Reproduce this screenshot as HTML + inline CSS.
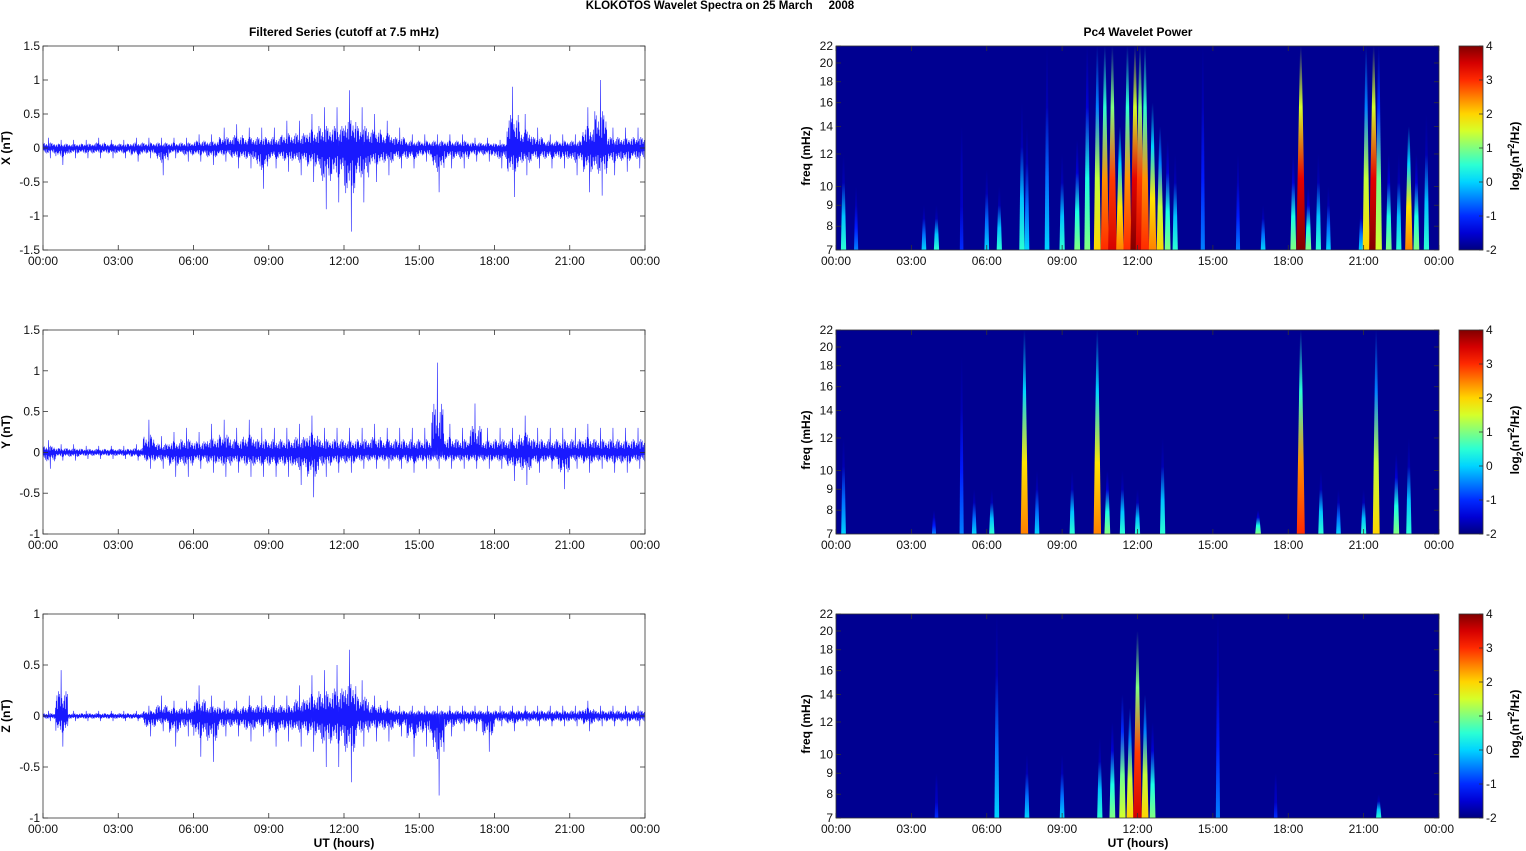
<!DOCTYPE html>
<html><head><meta charset="utf-8">
<style>
html,body{margin:0;padding:0;background:#fff;}
svg{display:block;font-family:"Liberation Sans",Arial,sans-serif;}
</style></head>
<body>
<svg id="fig" width="1526" height="851" viewBox="0 0 1526 851" xmlns="http://www.w3.org/2000/svg">
<text x="720" y="9" font-size="11.5" font-weight="bold" text-anchor="middle">KLOKOTOS Wavelet Spectra on 25 March &#160;&#160;&#160;&#160;2008</text>
<text x="344" y="36" font-size="12" font-weight="bold" text-anchor="middle">Filtered Series (cutoff at 7.5 mHz)</text>
<text x="1138" y="36" font-size="12" font-weight="bold" text-anchor="middle">Pc4 Wavelet Power</text>
<defs id="defs"></defs>
</svg>
<script>
// ---------- data ----------
const timeTicks = ["00:00","03:00","06:00","09:00","12:00","15:00","18:00","21:00","00:00"];
const freqTicks = [7,8,9,10,12,14,16,18,20,22];
const cbTicks = [-2,-1,0,1,2,3,4];
// 30-min bins, envelope max/min (nT)
const xMax = [0.15,0.12,0.12,0.12,0.15,0.12,0.12,0.15,0.15,0.15,0.15,0.15,0.2,0.2,0.3,0.35,0.3,0.3,0.3,0.4,0.4,0.5,0.6,0.6,0.85,0.6,0.5,0.4,0.3,0.2,0.2,0.2,0.2,0.2,0.15,0.15,0.12,0.9,0.5,0.3,0.2,0.2,0.2,0.6,1.0,0.3,0.3,0.3];
const xMin = [-0.15,-0.25,-0.15,-0.15,-0.15,-0.15,-0.15,-0.2,-0.15,-0.4,-0.15,-0.2,-0.2,-0.25,-0.2,-0.3,-0.3,-0.6,-0.3,-0.35,-0.4,-0.5,-0.9,-0.8,-1.23,-0.8,-0.5,-0.4,-0.3,-0.3,-0.2,-0.65,-0.3,-0.3,-0.2,-0.2,-0.3,-0.72,-0.4,-0.3,-0.3,-0.3,-0.4,-0.65,-0.7,-0.4,-0.35,-0.3];
const yMax = [0.15,0.1,0.1,0.08,0.08,0.08,0.08,0.1,0.4,0.2,0.25,0.3,0.25,0.35,0.4,0.3,0.4,0.3,0.3,0.3,0.35,0.45,0.3,0.3,0.3,0.3,0.35,0.3,0.3,0.3,0.3,1.1,0.35,0.3,0.6,0.3,0.3,0.3,0.45,0.3,0.3,0.3,0.3,0.35,0.3,0.3,0.3,0.3];
const yMin = [-0.2,-0.1,-0.1,-0.08,-0.08,-0.08,-0.08,-0.1,-0.2,-0.2,-0.3,-0.3,-0.2,-0.25,-0.3,-0.25,-0.3,-0.3,-0.3,-0.3,-0.4,-0.55,-0.3,-0.25,-0.25,-0.2,-0.2,-0.2,-0.2,-0.25,-0.2,-0.2,-0.2,-0.2,-0.2,-0.2,-0.2,-0.35,-0.4,-0.25,-0.2,-0.45,-0.2,-0.25,-0.2,-0.25,-0.25,-0.2];
const zMax = [0.05,0.45,0.05,0.05,0.05,0.05,0.05,0.05,0.1,0.2,0.15,0.15,0.3,0.2,0.15,0.15,0.2,0.2,0.2,0.2,0.3,0.4,0.45,0.5,0.65,0.35,0.2,0.15,0.1,0.1,0.1,0.1,0.1,0.1,0.1,0.1,0.1,0.1,0.1,0.1,0.1,0.1,0.1,0.15,0.1,0.1,0.1,0.1];
const zMin = [-0.05,-0.3,-0.05,-0.05,-0.05,-0.05,-0.05,-0.05,-0.2,-0.15,-0.3,-0.2,-0.4,-0.45,-0.2,-0.2,-0.25,-0.2,-0.3,-0.25,-0.3,-0.35,-0.5,-0.5,-0.65,-0.3,-0.25,-0.25,-0.2,-0.4,-0.3,-0.78,-0.2,-0.15,-0.15,-0.35,-0.1,-0.15,-0.1,-0.1,-0.1,-0.1,-0.1,-0.15,-0.1,-0.1,-0.1,-0.1];
// wavelet events: time (h), top freq (mHz), peak power (log2)
const xEvT = [0.3,0.8,3.5,4.0,5.0,6.0,6.5,7.4,7.6,8.4,9.0,9.6,10.0,10.4,10.7,11.0,11.3,11.6,11.9,12.1,12.3,12.6,12.9,13.2,13.5,14.6,16.0,17.0,18.2,18.5,18.8,19.2,19.6,20.9,21.1,21.4,21.6,22.0,22.4,22.8,23.1,23.5];
const xEvF = [12,10,9,9,14,11,10,16,14,22,12,13,22,22,22,22,14,22,22,22,22,16,14,13,12,22,12,9,12,22,10,12,10,9,22,22,22,12,12,14,12,15];
const xEvP = [0.5,-0.5,0,0.5,-1,0,0.5,0.5,0,0,0.5,1,1,2,3,3.5,2.5,3,4,3.5,3,2.5,2,1,0.5,-0.5,-0.5,0,1,4,1,0.5,0,0,2,4,1.5,1,0.5,2.5,1,0.5];
const yEvT = [0.3,3.9,5.0,5.5,6.2,7.5,8.0,9.4,10.4,10.8,11.4,12.0,13.0,16.8,18.5,19.3,20.0,21.0,21.5,22.3,22.8];
const yEvF = [12,8,19,9,9,22,10,10,22,10,10,9,12,8,22,10,9,9,22,11,12];
const yEvP = [0,-0.5,-0.5,0,0.5,2.5,0,0.5,2.5,1,0.5,0.5,0.5,1,3,0.5,0,0.5,2,1,0.5];
const zEvT = [4.0,6.4,7.6,9.0,10.5,11.0,11.4,11.7,12.0,12.3,12.6,15.2,17.5,21.6];
const zEvF = [9,22,10,10,11,12,14,13,20,14,12,22,9,8];
const zEvP = [-1,0,0,0,0.5,1,1.5,2,3.5,2,1,-0.5,-1,0.5];

// ---------- helpers ----------
const NS = "http://www.w3.org/2000/svg";
const svg = document.getElementById('fig');
const defs = document.getElementById('defs');
function el(tag, attrs, parent){const e=document.createElementNS(NS,tag);for(const k in attrs)e.setAttribute(k,attrs[k]);(parent||svg).appendChild(e);return e;}
function jet(v){ // v in [-2,4]
  let t=(v+2)/6; t=Math.max(0,Math.min(1,t));
  const r=Math.max(0,Math.min(1,Math.min(4*t-1.5,-4*t+4.5)));
  const g=Math.max(0,Math.min(1,Math.min(4*t-0.5,-4*t+3.5)));
  const b=Math.max(0,Math.min(1,Math.min(4*t+0.5,-4*t+2.5)));
  return `rgb(${Math.round(r*255)},${Math.round(g*255)},${Math.round(b*255)})`;
}
const texture=[0.9,0.45,0.7,0.3,0.8,0.55,0.35,0.75,0.5,0.25,0.65];

function frame(L,T,W,H,name){
  el('rect',{x:L,y:T,width:W,height:H,fill:'none',stroke:'#333','stroke-width':0.8,});
}
function timeAxis(L,T,W,H,prefix){
  timeTicks.forEach((lab,i)=>{
    const x=L+W*i/(timeTicks.length-1);
    el('line',{x1:x,y1:T+H,x2:x,y2:T+H-5,stroke:'#333','stroke-width':0.8});
    el('line',{x1:x,y1:T,x2:x,y2:T+5,stroke:'#333','stroke-width':0.8});
    const t=el('text',{x:x,y:T+H+15,'font-size':12,'text-anchor':'middle',fill:'#111'});
    
    
    t.textContent=lab;
  });
}
function seriesPanel(T,lo,hi,step,maxA,minA,label,name){
  const L=43,W=602,H=204;
  const ys=v=>T+H-(v-lo)/(hi-lo)*H;
  const xs=h=>L+h/24*W;
  const g=el('g',{});
  
  
  for(let v=lo;v<=hi+1e-9;v+=step){
    const y=ys(v);
    el('line',{x1:L,y1:y,x2:L+5,y2:y,stroke:'#333','stroke-width':0.8});
    el('line',{x1:L+W,y1:y,x2:L+W-5,y2:y,stroke:'#333','stroke-width':0.8});
    const t=el('text',{x:L-3,y:y+4,'font-size':12,'text-anchor':'end',fill:'#111'});
    
    
    t.textContent=String(Math.round(v*10)/10);
  }
  let d='';const sub=36;let k=0;
  for(let i=0;i<maxA.length;i++){
    for(let j=0;j<sub;j++){
      const h=(i+j/sub)*0.5;
      const f=texture[k%texture.length];
      let v;
      if(j%2===0) v = maxA[i]*(j===16?1:f*0.6);
      else v = minA[i]*(j===21?1:f*0.6);
      d+=(k===0?'M':'L')+xs(h).toFixed(2)+','+ys(v).toFixed(2);
      k++;
    }
  }
  const p=el('path',{d:d,fill:'none',stroke:'#0000ff','stroke-width':0.6,'stroke-opacity':0.9},g);
  
  
  frame(L,T,W,H,name+'-frame');
  timeAxis(L,T,W,H,name);
  const yl=el('text',{x:0,y:0,'font-size':12,'font-weight':'bold','text-anchor':'middle',transform:`translate(10,${T+H/2}) rotate(-90)`});
  
  
  yl.textContent=label;
}
function specPanel(T,evT,evF,evP,name){
  const L=836,W=603,H=204;
  const lf=Math.log(7),lr=Math.log(22)-Math.log(7);
  const ys=f=>T+H-(Math.log(f)-lf)/lr*H;
  const xs=h=>L+h/24*W;
  const cp=el('clipPath',{id:'cp'+name},defs);
  el('rect',{x:L,y:T,width:W,height:H},cp);
  const bg=el('rect',{x:L,y:T,width:W,height:H,fill:'rgb(0,0,145)'});
  
  
  const g=el('g',{'clip-path':`url(#cp${name})`});
  
  
  evT.forEach((t,i)=>{
    const gid='g'+name+i;
    const lg=el('linearGradient',{id:gid,x1:0,y1:0,x2:0,y2:1},defs);
    const p=evP[i];
    el('stop',{offset:0,'stop-color':'rgb(0,0,145)'},lg);
    el('stop',{offset:0.3,'stop-color':jet(Math.max(-1.7,p-2.5))},lg);
    el('stop',{offset:0.65,'stop-color':jet(p-0.6)},lg);
    el('stop',{offset:1,'stop-color':jet(p)},lg);
    const x=xs(t), yt=ys(evF[i]), yb=T+H;
    const wb=2.5+Math.max(0,p+2)*1.1;
    const poly=el('polygon',{points:`${x-wb/2},${yb} ${x-0.7},${yt} ${x+0.7},${yt} ${x+wb/2},${yb}`,fill:`url(#${gid})`},g);
    
    
  });
  freqTicks.forEach(f=>{
    const y=ys(f);
    el('line',{x1:L,y1:y,x2:L+5,y2:y,stroke:'#333','stroke-width':0.8});
    el('line',{x1:L+W,y1:y,x2:L+W-5,y2:y,stroke:'#333','stroke-width':0.8});
    const t=el('text',{x:L-3,y:y+4,'font-size':12,'text-anchor':'end',fill:'#111'});
    
    
    t.textContent=f;
  });
  frame(L,T,W,H,name+'-frame');
  timeAxis(L,T,W,H,name);
  const yl=el('text',{x:0,y:0,'font-size':12,'font-weight':'bold','text-anchor':'middle',transform:`translate(810,${T+H/2+8}) rotate(-90)`});
  
  
  yl.textContent='freq (mHz)';
  const cx=1459,cw=24;
  const cg=el('linearGradient',{id:'cb'+name,x1:0,y1:1,x2:0,y2:0},defs);
  for(let s=0;s<=12;s++){el('stop',{offset:s/12,'stop-color':jet(-2+s/2)},cg);}
  const cb=el('rect',{x:cx,y:T,width:cw,height:H,fill:`url(#cb${name})`,stroke:'#333','stroke-width':0.8});
  
  
  cbTicks.forEach(v=>{
    const y=T+H-(v+2)/6*H;
    el('line',{x1:cx+cw-4,y1:y,x2:cx+cw,y2:y,stroke:'#333','stroke-width':0.8});
    const t=el('text',{x:cx+cw+3,y:y+4,'font-size':12,fill:'#111'});
    
    
    t.textContent=v;
  });
  const cl=el('text',{x:0,y:0,'font-size':12,'font-weight':'bold','text-anchor':'middle',transform:`translate(1519,${T+H/2+8}) rotate(-90)`});
  
  
  cl.innerHTML='log<tspan font-size="9" dy="4">2</tspan><tspan dy="-4">(nT</tspan><tspan font-size="9" dy="-5">2</tspan><tspan dy="5">/Hz)</tspan>';
}
seriesPanel(46,-1.5,1.5,0.5,xMax,xMin,'X (nT)','x-series');
seriesPanel(330,-1,1.5,0.5,yMax,yMin,'Y (nT)','y-series');
seriesPanel(614,-1,1,0.5,zMax,zMin,'Z (nT)','z-series');
specPanel(46,xEvT,xEvF,xEvP,'x-wavelet');
specPanel(330,yEvT,yEvF,yEvP,'y-wavelet');
specPanel(614,zEvT,zEvF,zEvP,'z-wavelet');
[['x-axis-title-left',344],['x-axis-title-right',1138]].forEach(([n,x])=>{
  const t=el('text',{x:x,y:847,'font-size':12,'font-weight':'bold','text-anchor':'middle'});
  
  
  t.textContent='UT (hours)';
});
</script>
</body></html>
